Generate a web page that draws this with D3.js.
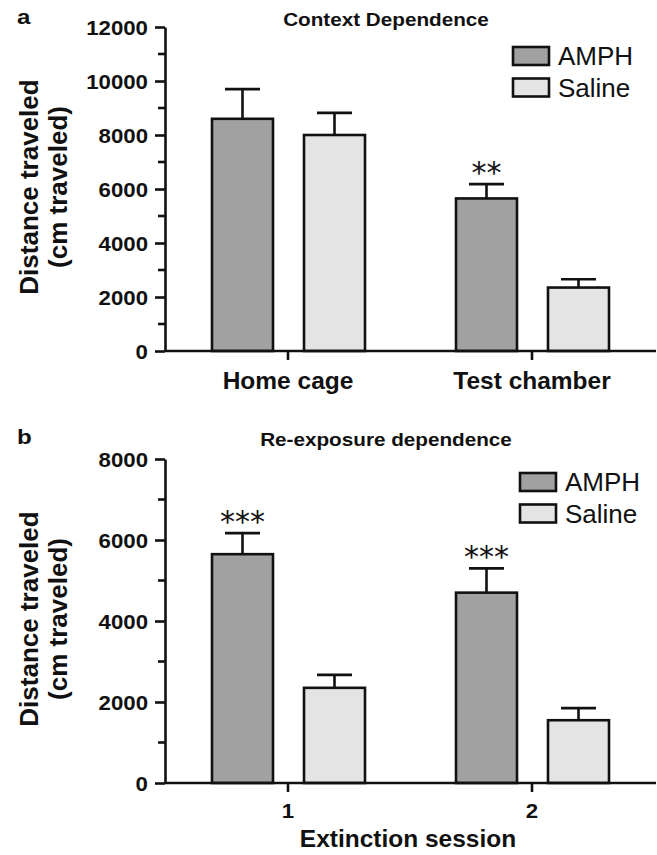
<!DOCTYPE html>
<html>
<head>
<meta charset="utf-8">
<script src="https://cdn.jsdelivr.net/npm/d3@7"></script>
<style>
  html, body { margin: 0; padding: 0; background: #fff; }
  svg { display: block; }
</style>
</head>
<body>
<svg id="chart" width="657" height="855"></svg>
<script>
// ---------- data ----------
const seriesNames = ["AMPH", "Saline"];

// Panel a: Context Dependence
const categoriesA = ["Home cage", "Test chamber"];
const amphA = [8600, 5650];
const salineA = [8000, 2350];
const amphErrA = [1100, 530];
const salineErrA = [820, 310];
const sigA = ["", "**"];
const yTicksA = [0, 2000, 4000, 6000, 8000, 10000, 12000];
const yMinorA = [1000, 3000, 5000, 7000, 9000, 11000];

// Panel b: Re-exposure dependence
const categoriesB = ["1", "2"];
const amphB = [5650, 4700];
const salineB = [2350, 1550];
const amphErrB = [520, 600];
const salineErrB = [320, 300];
const sigB = ["***", "***"];
const yTicksB = [0, 2000, 4000, 6000, 8000];
const yMinorB = [1000, 3000, 5000, 7000];

const titleA = "Context Dependence";
const titleB = "Re-exposure dependence";
const yLabel1 = "Distance traveled";
const yLabel2 = "(cm traveled)";
const xLabelB = "Extinction session";

// ---------- style ----------
const FONT = "'Liberation Sans', Arial, Helvetica, sans-serif";
const colors = { AMPH: "#a1a1a1", Saline: "#e4e4e4" };
const SW = 2.6;

const svg = d3.select("#chart");

function stretchedText(g, x, y, str, size, weight, sx, anchor) {
  return g.append("text")
    .attr("transform", `translate(${x},${y}) scale(${sx},1)`)
    .attr("font-family", FONT)
    .attr("font-size", size)
    .attr("font-weight", weight)
    .attr("text-anchor", anchor || "middle")
    .attr("fill", "#111")
    .text(str);
}

function panel(opts) {
  const g = svg.append("g");
  const left = 166, right = 654, top = opts.top, bottom = opts.top + 324;

  const y = d3.scaleLinear().domain([0, opts.ymax]).range([bottom, top]);
  const x = d3.scaleBand().domain(opts.categories).range([left, right]).padding(0);
  const xi = d3.scaleBand().domain(seriesNames).range([46, 199]).paddingInner(0.337).paddingOuter(0);

  const rows = [];
  opts.categories.forEach((c, i) => {
    rows.push({ cat: c, s: "AMPH", v: opts.amph[i], e: opts.amphErr[i], sig: opts.sig[i] });
    rows.push({ cat: c, s: "Saline", v: opts.saline[i], e: opts.salineErr[i], sig: "" });
  });

  // error bars (upward only)
  const eb = g.append("g").attr("stroke", "#111").attr("stroke-width", SW).attr("fill", "none");
  rows.forEach(d => {
    const cx = x(d.cat) + xi(d.s) + xi.bandwidth() / 2;
    eb.append("line").attr("x1", cx).attr("x2", cx).attr("y1", y(d.v)).attr("y2", y(d.v + d.e));
    eb.append("line").attr("x1", cx - 17.5).attr("x2", cx + 17.5).attr("y1", y(d.v + d.e)).attr("y2", y(d.v + d.e));
  });

  // bars
  g.append("g").selectAll("rect").data(rows).join("rect")
    .attr("x", d => x(d.cat) + xi(d.s))
    .attr("width", xi.bandwidth())
    .attr("y", d => y(d.v))
    .attr("height", d => y(0) - y(d.v))
    .attr("fill", d => colors[d.s])
    .attr("stroke", "#111")
    .attr("stroke-width", SW);

  // significance stars
  rows.filter(d => d.sig).forEach(d => {
    const cx = x(d.cat) + xi(d.s) + xi.bandwidth() / 2;
    g.append("text")
      .attr("x", cx)
      .attr("y", y(d.v + d.e) - 1)
      .attr("text-anchor", "middle")
      .attr("font-family", "'DejaVu Sans', sans-serif")
      .attr("font-size", 30)
      .attr("fill", "#111")
      .text(d.sig);
  });

  // y axis
  const yAxis = g.append("g").attr("transform", `translate(${left - 1},0)`)
    .call(d3.axisLeft(y).tickValues(opts.yTicks).tickSize(10).tickSizeOuter(0).tickPadding(7).tickFormat(d3.format("d")));
  yAxis.attr("font-family", FONT);
  yAxis.selectAll("path, line").attr("stroke", "#111").attr("stroke-width", SW);
  yAxis.selectAll("text")
    .attr("x", null).attr("dy", null)
    .attr("transform", "translate(-17,7.5) scale(1.06,1)")
    .attr("font-size", 21).attr("font-weight", "bold").attr("fill", "#111");
  // minor ticks
  g.append("g").selectAll("line").data(opts.yMinor).join("line")
    .attr("x1", left - 1).attr("x2", left - 8)
    .attr("y1", d => y(d)).attr("y2", d => y(d))
    .attr("stroke", "#111").attr("stroke-width", SW);

  // x axis
  const xAxis = g.append("g").attr("transform", `translate(0,${y(0)})`)
    .call(d3.axisBottom(x).tickSize(9).tickSizeOuter(0));
  xAxis.select(".domain").attr("d", `M${left - 1},0H656`).attr("stroke", "#111").attr("stroke-width", SW);
  xAxis.selectAll(".tick line").attr("stroke", "#111").attr("stroke-width", SW);
  xAxis.selectAll("text")
    .attr("y", null).attr("dy", null)
    .attr("transform", `translate(0,${opts.xTickY}) scale(${opts.xTickSx},1)`)
    .attr("font-family", FONT)
    .attr("font-size", opts.xTickSize).attr("font-weight", "bold").attr("fill", "#111");

  // title
  stretchedText(g, 386, opts.titleY, opts.title, 18, "bold", 1.15);
  // panel letter
  stretchedText(g, 17, opts.titleY - 2, opts.letter, 21, "bold", 1.15, "start");

  // y label
  const ymid = (top + bottom) / 2 - 2;
  [yLabel1, yLabel2].forEach((t, i) => {
    g.append("text")
      .attr("transform", `translate(${38 + i * 29},${ymid}) rotate(-90)`)
      .attr("text-anchor", "middle")
      .attr("font-family", FONT).attr("font-size", 26).attr("font-weight", "bold")
      .attr("fill", "#111")
      .text(t);
  });

  // x label
  if (opts.xLabel) {
    stretchedText(g, 408, bottom + 64, opts.xLabel, 23, "bold", 1.065);
  }

  // legend
  const lg = g.append("g").attr("transform", `translate(${opts.legX},${opts.legY})`);
  seriesNames.forEach((s, i) => {
    lg.append("rect").attr("x", 0).attr("y", i * 31.5).attr("width", 36).attr("height", 18)
      .attr("fill", colors[s]).attr("stroke", "#111").attr("stroke-width", SW);
    lg.append("text").attr("x", 45).attr("y", i * 31.5 + 9).attr("dy", "0.36em")
      .attr("font-family", FONT).attr("font-size", 26).attr("fill", "#111").text(s);
  });
}

panel({
  top: 27, ymax: 12000, categories: categoriesA,
  amph: amphA, saline: salineA, amphErr: amphErrA, salineErr: salineErrA, sig: sigA,
  yTicks: yTicksA, yMinor: yMinorA,
  title: titleA, titleY: 26, letter: "a",
  xTickY: 38, xTickSx: 1.065, xTickSize: 23,
  legX: 513, legY: 47
});

panel({
  top: 459, ymax: 8000, categories: categoriesB,
  amph: amphB, saline: salineB, amphErr: amphErrB, salineErr: salineErrB, sig: sigB,
  yTicks: yTicksB, yMinor: yMinorB,
  title: titleB, titleY: 446, letter: "b",
  xTickY: 35, xTickSx: 1.06, xTickSize: 21, xLabel: xLabelB,
  legX: 520, legY: 473
});
</script>
</body>
</html>
